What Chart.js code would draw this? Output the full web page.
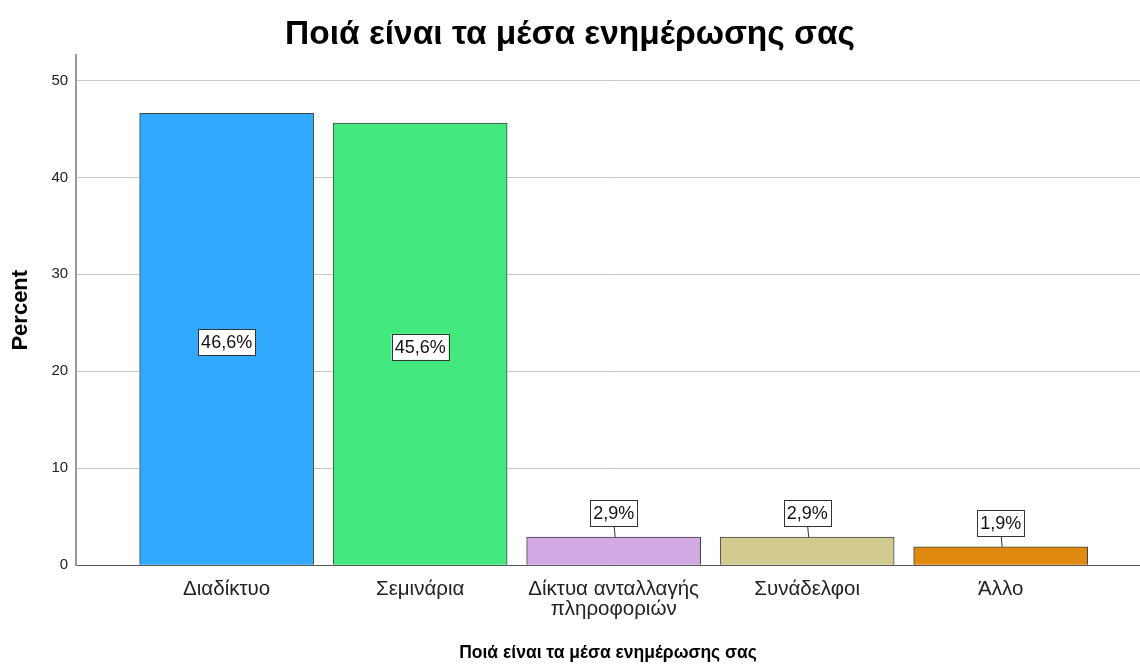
<!DOCTYPE html>
<html>
<head>
<meta charset="utf-8">
<script src="https://cdn.jsdelivr.net/npm/chart.js@4"></script>
<style>
  html, body { margin: 0; padding: 0; background: #fff; }
  #wrap { width: 1140px; height: 666px; }
</style>
</head>
<body>
<div id="wrap"><canvas id="mediaChart"></canvas></div>
<script>
// categories and percent values
const categories = ['Διαδίκτυο', 'Σεμινάρια', ['Δίκτυα ανταλλαγής', 'πληροφοριών'], 'Συνάδελφοι', 'Άλλο'];
const percentValues = [46.6, 45.6, 2.9, 2.9, 1.9];
const yTickValues = [0, 10, 20, 30, 40, 50];

const barColors = ['#30a9fe', '#43e97e', '#d3a9e4', '#d2cb8f', '#e08a10'];
const FONT = "'Liberation Sans', Arial, sans-serif";

// value boxes: centred inside tall bars, above short ones with a little leader line
const valueBoxes = {
    id: 'valueBoxes',
    afterDatasetsDraw(chart) {
        const ctx = chart.ctx;
        const meta = chart.getDatasetMeta(0);
        ctx.save();
        ctx.font = '18px ' + FONT;
        ctx.textAlign = 'center';
        ctx.textBaseline = 'middle';
        meta.data.forEach((bar, i) => {
            const text = percentValues[i].toFixed(1).replace('.', ',') + '%';
            const w = ctx.measureText(text).width + 6;
            const h = 26;
            const barH = bar.base - bar.y;
            let cy;
            if (barH > 60) {
                cy = bar.y + barH / 2 + 3;
            } else {
                cy = bar.y - 24;
                ctx.strokeStyle = '#333';
                ctx.lineWidth = 1;
                ctx.beginPath();
                ctx.moveTo(bar.x + 1.5, bar.y);
                ctx.lineTo(bar.x + 0.5, cy + h / 2);
                ctx.stroke();
            }
            ctx.fillStyle = '#fff';
            ctx.fillRect(bar.x - w / 2, cy - h / 2, w, h);
            ctx.strokeStyle = '#333';
            ctx.lineWidth = 1;
            ctx.strokeRect(Math.round(bar.x - w / 2) + 0.5, Math.round(cy - h / 2) + 0.5, Math.round(w), h);
            ctx.fillStyle = '#111';
            ctx.fillText(text, bar.x, cy + 1);
        });
        ctx.restore();
    }
};

new Chart(document.getElementById('mediaChart'), {
    type: 'bar',
    data: {
        datasets: [{
            data: percentValues.map((v, i) => ({ x: i, y: v })),
            backgroundColor: barColors,
            borderColor: '#444',
            borderWidth: 1,
            barThickness: 174
        }]
    },
    options: {
        responsive: true,
        maintainAspectRatio: false,
        animation: false,
        layout: { padding: { left: 0, right: 0, top: 0, bottom: 2 } },
        plugins: {
            legend: { display: false },
            tooltip: { enabled: false },
            title: {
                display: true,
                text: 'Ποιά είναι τα μέσα ενημέρωσης σας',
                color: '#000',
                font: { family: FONT, size: 33.5, weight: 'bold' },
                padding: { top: 15, bottom: 0 }
            }
        },
        scales: {
            x: {
                type: 'linear',
                offset: false,
                min: -0.778,
                max: 4.72,
                grid: { display: false },
                border: { display: true, color: '#555', width: 1 },
                ticks: {
                    stepSize: 1,
                    includeBounds: false,
                    autoSkip: false,
                    maxRotation: 0,
                    padding: 6,
                    color: '#222',
                    font: { family: FONT, size: 20.5, lineHeight: 0.97 },
                    callback: v => categories[v] || ''
                },
                title: {
                    display: true,
                    text: 'Ποιά είναι τα μέσα ενημέρωσης σας',
                    color: '#000',
                    font: { family: FONT, size: 17.5, weight: 'bold' },
                    padding: { top: 18, bottom: 0 }
                }
            },
            y: {
                min: 0,
                max: 52.6,
                afterBuildTicks: axis => { axis.ticks = yTickValues.map(v => ({ value: v })); },
                grid: { color: '#c8c8c8', lineWidth: 1, drawTicks: false },
                border: { display: true, color: '#999', width: 2 },
                ticks: {
                    padding: 8,
                    color: '#222',
                    font: { family: FONT, size: 15 }
                },
                title: {
                    display: true,
                    text: 'Percent',
                    color: '#000',
                    font: { family: FONT, size: 22, weight: 'bold' },
                    padding: { top: 8, bottom: 9 }
                }
            }
        }
    },
    plugins: [valueBoxes]
});
</script>
</body>
</html>
